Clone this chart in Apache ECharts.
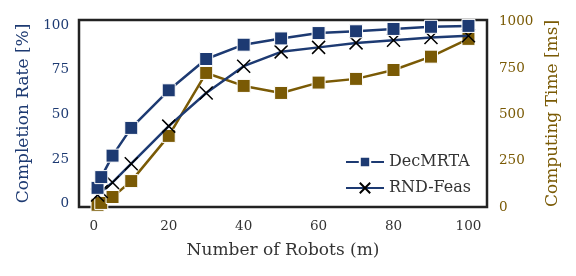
<!DOCTYPE html>
<html>
<head>
<meta charset="utf-8">
<script src="https://cdn.jsdelivr.net/npm/echarts@6/dist/echarts.min.js"></script>
<style>
  html, body { margin: 0; padding: 0; background: #fff; }
  #chart { width: 576px; height: 276px; }
</style>
</head>
<body>
<div id="chart"></div>
<script>
  // number of robots
  var robots = [1, 2, 5, 10, 20, 30, 40, 50, 60, 70, 80, 90, 100];
  // completion rate [%]
  var decmrta = [9, 15, 27, 42.5, 63.5, 81, 89, 92.5, 95.5, 96.5, 97.8, 99, 99.5];
  var rndFeas = [5, 7, 12, 22.5, 43.5, 62, 77, 85, 87.5, 90, 91.5, 93, 94];
  // computing time [ms]
  var compTime = [12, 22, 54, 140, 384, 724, 654, 616, 672, 692, 740, 812, 908];
  var xTicks = [0, 20, 40, 60, 80, 100];
  var leftTicks = [0, 25, 50, 75, 100];
  var rightTicks = [0, 250, 500, 750, 1000];

  var navy = "#1d3a72";
  var brown = "#7a5a05";
  var font = "DejaVu Serif";

  function pairs(xs, ys) {
    return xs.map(function (x, i) { return [x, ys[i]]; });
  }

  var chart = echarts.init(document.getElementById("chart"), null, { renderer: "canvas" });
  chart.setOption({
    animation: false,
    textStyle: { fontFamily: font },
    grid: {
      left: 79, right: 89, top: 20, bottom: 69,
      show: true, borderColor: "#222", borderWidth: 2.5, backgroundColor: "#fff"
    },
    legend: {
      orient: "vertical",
      left: 340,
      top: 149,
      itemWidth: 38,
      itemHeight: 13,
      itemGap: 10,
      data: ["DecMRTA", "RND-Feas"],
      textStyle: { fontFamily: font, fontSize: 16, color: "#333" }
    },
    xAxis: {
      type: "value",
      min: -3.95,
      max: 104.95,
      name: "Number of Robots (m)",
      nameLocation: "middle",
      nameGap: 35,
      nameTextStyle: { fontFamily: font, fontSize: 17, color: "#333" },
      axisLine: { show: false },
      axisTick: { show: false },
      splitLine: { show: false },
      axisLabel: {
        customValues: xTicks,
        margin: 12,
        fontFamily: font, fontSize: 13.5, color: "#333"
      }
    },
    yAxis: [
      {
        type: "value",
        min: -1.7,
        max: 102.8,
        name: "Completion Rate [%]",
        nameLocation: "middle",
        nameGap: 47,
        nameTextStyle: { fontFamily: font, fontSize: 17, color: navy },
        axisLine: { show: false },
        axisTick: { show: false },
        splitLine: { show: false },
        axisLabel: {
          customValues: leftTicks,
          margin: 10,
          fontFamily: font, fontSize: 13.5, color: navy
        }
      },
      {
        type: "value",
        min: 0,
        max: 1010,
        position: "right",
        name: "Computing Time [ms]",
        nameLocation: "middle",
        nameGap: 54,
        nameRotate: 90,
        nameTextStyle: { fontFamily: font, fontSize: 17, color: brown },
        axisLine: { show: false },
        axisTick: { show: false },
        splitLine: { show: false },
        axisLabel: {
          customValues: rightTicks,
          margin: 12,
          formatter: function (v) { return String(v); },
          fontFamily: font, fontSize: 13.5, color: brown
        }
      }
    ],
    series: [
      {
        name: "Computing Time",
        type: "line",
        yAxisIndex: 1,
        data: pairs(robots, compTime),
        symbol: "rect",
        symbolSize: 13,
        lineStyle: { color: brown, width: 2.5 },
        itemStyle: { color: brown, borderColor: "#fff", borderWidth: 1 },
        z: 2
      },
      {
        name: "RND-Feas",
        type: "line",
        yAxisIndex: 0,
        data: pairs(robots, rndFeas),
        symbol: "path://M0,0L10,10M10,0L0,10",
        symbolSize: 13,
        lineStyle: { color: navy, width: 2.5 },
        itemStyle: { color: "#000", borderColor: "#000", borderWidth: 1.5 },
        z: 3
      },
      {
        name: "DecMRTA",
        type: "line",
        yAxisIndex: 0,
        data: pairs(robots, decmrta),
        symbol: "rect",
        symbolSize: 13,
        lineStyle: { color: navy, width: 2.5 },
        itemStyle: { color: navy, borderColor: "#fff", borderWidth: 1 },
        z: 4
      }
    ]
  });
</script>
</body>
</html>
